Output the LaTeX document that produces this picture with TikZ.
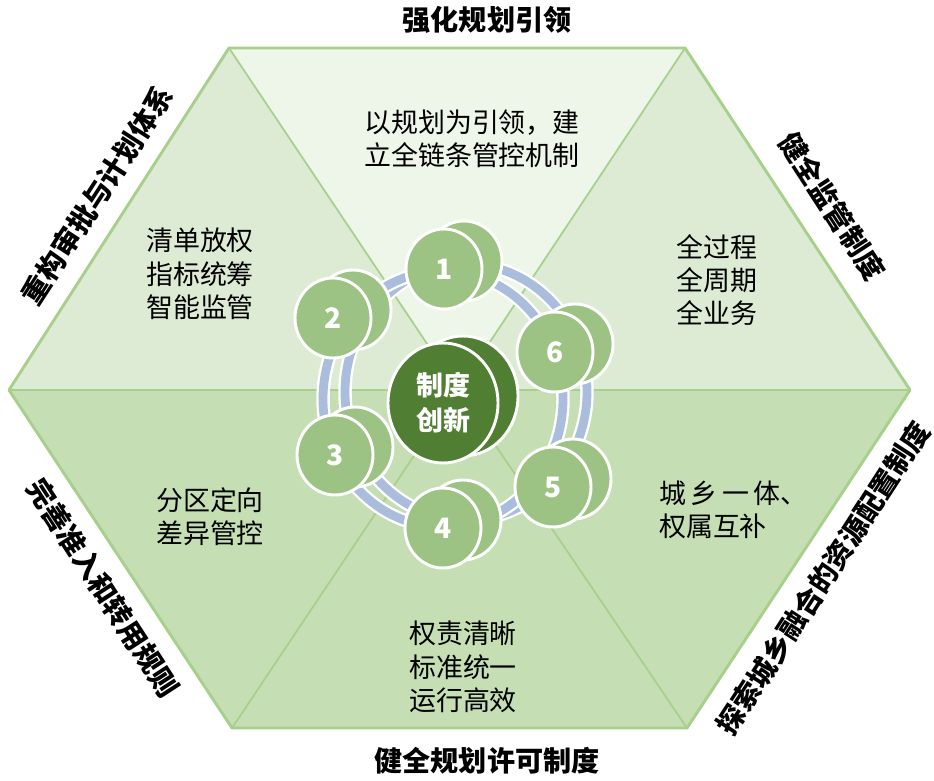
\documentclass[tikz,border=0pt]{standalone}
\usepackage{fontspec}
\setmainfont{Noto Sans CJK SC}
\usetikzlibrary{shapes.geometric}
\definecolor{hextop}{HTML}{EEF5E9}
\definecolor{hexup}{HTML}{DEEBD4}
\definecolor{hexlow}{HTML}{C5DEB3}
\definecolor{hexline}{HTML}{A8D08D}
\definecolor{coinfill}{HTML}{9DC384}
\definecolor{corefill}{HTML}{507E32}
\definecolor{ringblue}{HTML}{AABDDC}
\begin{document}
\begin{tikzpicture}[x=0.3mm,y=-0.3mm,
  coin/.style={ellipse,draw=white,line width=2.5pt,fill=coinfill,minimum width=22.8mm,minimum height=24mm,inner sep=0pt,text=white,font=\fontsize{24}{24}\selectfont\bfseries},
  core/.style={ellipse,draw=white,line width=2.5pt,fill=corefill,minimum width=33mm,minimum height=36mm,inner sep=0pt,text=white,align=center,font=\fontsize{23}{30}\selectfont\bfseries},
  inner/.style={align=center,font=\fontsize{23}{28.5}\selectfont},
  edgelabel/.style={font=\fontsize{24}{24}\selectfont\bfseries}]
\useasboundingbox (0,0) rectangle (934,781);
% hexagon corners
\coordinate (O) at (458,390);
\coordinate (TL) at (229,48);
\coordinate (TR) at (685,48);
\coordinate (R) at (910,390);
\coordinate (BR) at (687,728);
\coordinate (BL) at (232,728);
\coordinate (L) at (9,390);
\fill[hextop] (TL) -- (TR) -- (O) -- cycle;
\fill[hexup] (TL) -- (O) -- (L) -- cycle;
\fill[hexup] (TR) -- (R) -- (O) -- cycle;
\fill[hexlow] (L) -- (R) -- (BR) -- (BL) -- cycle;
\draw[hexline,line width=1.5pt] (TL) -- (O) -- (TR);
\draw[hexline,line width=1.5pt] (BL) -- (O) -- (BR);
\draw[hexline,line width=1.5pt] (L) -- (R);
\draw[hexline,line width=2.5pt,line join=round] (TL) -- (TR) -- (R) -- (BR) -- (BL) -- (L) -- cycle;
% ring, back and front
\draw[white,line width=11.5pt] (466,392) ellipse [x radius=121,y radius=128];
\draw[ringblue,line width=7.5pt] (466,392) ellipse [x radius=121,y radius=128];
\draw[white,line width=11.5pt] (443,399) ellipse [x radius=120,y radius=128];
\draw[ringblue,line width=7.5pt] (443,399) ellipse [x radius=120,y radius=128];
% coins
\foreach \n/\x/\y in {1/444/269,2/333/318,3/335/455,4/443/528,5/553/487,6/555/352}{
  \node[coin] at (\x+20,\y-8) {};
  \node[coin] (c\n) at (\x,\y) {\n};
}
\node[core] at (463,396) {};
\node[core] (core) at (443,403) {制度\\创新};
% texts in the triangles
\node[inner] (toptxt) at (472,139) {以规划为引领，建\\立全链条管控机制};
\node[inner] (ultxt) at (200,274) {清单放权\\指标统筹\\智能监管};
\node[inner] (urtxt) at (717,280) {全过程\\全周期\\全业务};
\node[inner] (lltxt) at (210,517) {分区定向\\差异管控};
\node[inner,align=left,anchor=west] (lrtxt) at (655,510) {城\,乡\,一\,体、\\权属互补};
\node[inner] (btxt) at (463,667) {权责清晰\\标准统一\\运行高效};
% labels along the edges
\node[edgelabel] (ltop) at (487,20) {强化规划引领};
\node[edgelabel] (lbot) at (487,761) {健全规划许可制度};
\node[edgelabel,rotate=57] (lul) at (97,195) {重构审批与计划体系};
\node[edgelabel,rotate=-57] (lur) at (832,206) {健全监管制度};
\node[edgelabel,rotate=57] (llr) at (823,578) {探索城乡融合的资源配置制度};
\node[edgelabel,rotate=-57] (lll) at (103,588) {完善准入和转用规则};
\end{tikzpicture}
\end{document}
